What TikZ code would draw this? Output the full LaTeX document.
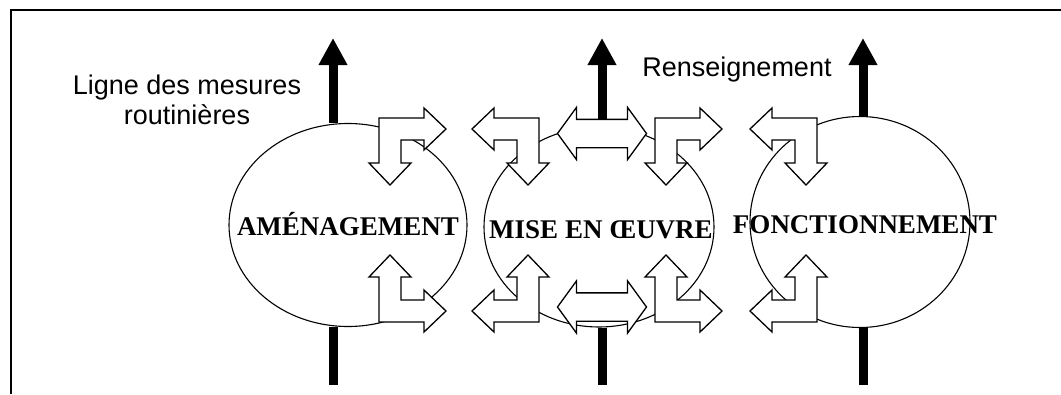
\documentclass[tikz,border=0pt]{standalone}
\usepackage{fontspec}
\setmainfont{Liberation Serif}
\setsansfont{Liberation Sans}
\usetikzlibrary{arrows.meta,shapes.geometric,shapes.arrows}

\tikzset{
  phase/.style={draw, ellipse, line width=1.1pt, inner sep=0pt},
  phasename/.style={font=\bfseries\fontsize{27}{30}\selectfont, inner sep=0pt, text height=18pt, text depth=0pt},
  note/.style={font=\sffamily\fontsize{27}{30}\selectfont, align=center, inner sep=0pt},
  bar/.style={line width=9pt},
  uparrow/.style={bar, -{Triangle[width=27pt,length=27pt]}},
  turnbox/.style={draw, fill=white, line width=1.3pt},
  twoway/.style={draw, fill=white, line width=1.3pt, double arrow, double arrow tip angle=108,
    double arrow head extend=12pt, inner xsep=0pt, inner ysep=13.5pt, minimum height=89pt},
  % L-shaped arrow, corner at the origin, arms to the right and downwards
  turn/.pic={
    \path[turnbox] (0,0) -- (45,0) -- (45,-10) -- (67,11) -- (45,32) -- (45,22) -- (22,22)
      -- (22,45) -- (32,45) -- (11,67) -- (-10,45) -- (0,45) -- cycle;
  }
}

\begin{document}
\begin{tikzpicture}[x=1pt, y=-1pt]
    \useasboundingbox (0,0) rectangle (1061,394);
    \draw[line width=1.3pt] (11,394) -- (11,10) -- (1061,10);

    % the three phases
    \node[phase, minimum width=238pt, minimum height=203pt] (amen) at (348,225) {};
    \node[phase, minimum width=230pt, minimum height=200pt] (mise) at (599,227) {};
    \node[phase, minimum width=220pt, minimum height=211pt] (fonc) at (860,222) {};

    \node[phasename] (amen-t) at (348,226) {AMÉNAGEMENT};
    \node[phasename] (mise-t) at (601,229) {MISE EN ŒUVRE};
    \node[phasename] (fonc-t) at (865,224) {FONCTIONNEMENT};

    % free ends of the vertical lines
    \coordinate (up1) at (333,38);
    \coordinate (up2) at (602,38);
    \coordinate (up3) at (863,38);
    \coordinate (down1) at (333,385);
    \coordinate (down2) at (602,385);
    \coordinate (down3) at (863,385);

    \draw[uparrow] (up1 |- amen.north) -- (up1);
    \draw[uparrow] (up2 |- mise.north) -- (up2);
    \draw[uparrow] (up3 |- fonc.north) -- (up3);
    \draw[bar] (down1 |- amen.south) -- (down1);
    \draw[bar] (down2 |- mise.south) -- (down2);
    \draw[bar] (down3 |- fonc.south) -- (down3);

    % exchanges between the phases
    \node[twoway] (link-top) at (602,133.5) {};
    \node[twoway] (link-bot) at (602,307) {};

    \pic at (379,118) {turn};
    \pic[xscale=-1] at (539,118) {turn};
    \pic at (655,118) {turn};
    \pic[xscale=-1] at (817,118) {turn};
    \pic[yscale=-1] at (379,322) {turn};
    \pic[xscale=-1, yscale=-1] at (539,322) {turn};
    \pic[yscale=-1] at (655,322) {turn};
    \pic[xscale=-1, yscale=-1] at (817,322) {turn};

    \node[note] (routine) at (187,100) {Ligne des mesures\\routinières};
    \node[note, anchor=base] (info) at (737,76) {Renseignement};
\end{tikzpicture}
\end{document}
